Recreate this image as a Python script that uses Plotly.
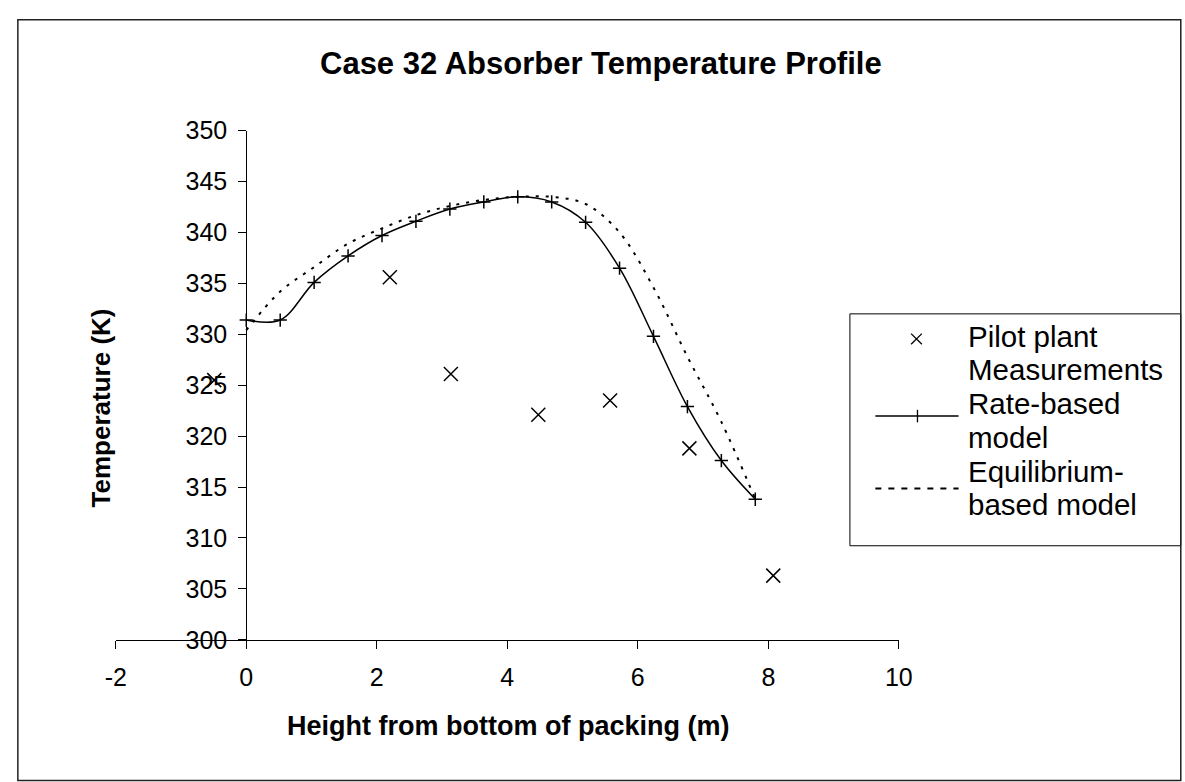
import plotly.graph_objects as go

# ---------------- data ----------------
meas_x = [-0.49, 2.2, 3.135, 4.475, 5.575, 6.79, 8.075]
meas_y = [325.5, 335.6, 326.1, 322.1, 323.5, 318.8, 306.3]

model_x = [0.0, 0.52, 1.04, 1.56, 2.08, 2.6, 3.12, 3.64, 4.16, 4.68, 5.2, 5.72, 6.24, 6.76, 7.28, 7.8]
rate_y = [331.4, 331.4, 335.1, 337.7, 339.7, 341.1, 342.3, 343.0, 343.5, 343.0, 341.0, 336.5, 329.8, 322.9, 317.6, 313.8]
equil_y = [330.4, 334.2, 336.6, 338.9, 340.4, 341.7, 342.6, 343.2, 343.5, 343.5, 342.8, 340.0, 334.6, 327.8, 321.4, 313.8]

x_ticks = [-2, 0, 2, 4, 6, 8, 10]
y_ticks = [300, 305, 310, 315, 320, 325, 330, 335, 340, 345, 350]

title = "Case 32 Absorber Temperature Profile"
x_title = "Height from bottom of packing (m)"
y_title = "Temperature (K)"
legend_lines = ["Pilot plant", "Measurements", "Rate-based", "model", "Equilibrium-", "based model"]

# ---------------- layout helpers ----------------
W, H = 1185, 782
FONT = "Liberation Sans, Arial, sans-serif"


def px(x):
    return x / W


def py(y):
    return (H - y) / H


fig = go.Figure()

fig.add_trace(go.Scatter(
    x=meas_x, y=meas_y, mode="markers", name="Pilot plant Measurements",
    marker=dict(symbol="x-thin", size=14, color="black", line=dict(width=1.5, color="black")),
    showlegend=False, cliponaxis=False,
))
fig.add_trace(go.Scatter(
    x=model_x, y=equil_y, mode="lines", name="Equilibrium-based model",
    line=dict(color="black", width=2, dash="3px,7px", shape="spline"),
    showlegend=False,
))
fig.add_trace(go.Scatter(
    x=model_x, y=rate_y, mode="lines+markers", name="Rate-based model",
    line=dict(color="black", width=1.5, shape="spline"),
    marker=dict(symbol="cross-thin", size=9.5, color="black", line=dict(width=1.5, color="black")),
    showlegend=False, cliponaxis=False,
))

x0_px, x1_px = 107, 907
ytop_px, ybot_px = 121, 649
xmin, xmax = -2, 10

fig.update_layout(
    width=W, height=H,
    margin=dict(l=0, r=0, t=0, b=0),
    paper_bgcolor="white", plot_bgcolor="white",
    font=dict(family=FONT, color="black"),
    showlegend=False,
    xaxis=dict(
        domain=[px(x0_px), px(x1_px)], range=[xmin, xmax],
        tickmode="array", tickvals=x_ticks, ticktext=[str(v) for v in x_ticks],
        showline=True, linecolor="black", linewidth=1,
        ticks="outside", ticklen=8, tickcolor="black", tickwidth=1,
        showgrid=False, zeroline=False,
        tickfont=dict(size=25, family=FONT, color="black"),
        ticklabelstandoff=7,
        anchor="y",
    ),
    yaxis=dict(
        domain=[py(ybot_px), py(ytop_px)], range=[300, 350],
        tickmode="array", tickvals=y_ticks, ticktext=[str(v) for v in y_ticks],
        showline=True, linecolor="black", linewidth=1,
        ticks="outside", ticklen=8, tickcolor="black", tickwidth=1,
        showgrid=False, zeroline=False,
        tickfont=dict(size=25, family=FONT, color="black"),
        ticklabelstandoff=6,
        anchor="free",
        position=px(x0_px + (0 - xmin) / (xmax - xmin) * (x1_px - x0_px)),
    ),
)

ann = []
ann.append(dict(text="<b>" + title + "</b>", x=px(603), y=py(51), xref="paper", yref="paper",
                xanchor="center", yanchor="middle", showarrow=False,
                font=dict(size=31, family=FONT, color="black")))
ann.append(dict(text="<b>" + x_title + "</b>", x=px(508), y=py(738), xref="paper", yref="paper",
                xanchor="center", yanchor="middle", showarrow=False,
                font=dict(size=27, family=FONT, color="black")))
ann.append(dict(text="<b>" + y_title + "</b>", x=px(92), y=py(409), xref="paper", yref="paper",
                xanchor="center", yanchor="middle", showarrow=False, textangle=-90,
                font=dict(size=26, family=FONT, color="black")))
for i, t in enumerate(legend_lines):
    ann.append(dict(text=t, x=px(975.5), y=py(334 + 35 * i), xref="paper", yref="paper",
                    xanchor="left", yanchor="middle", showarrow=False,
                    font=dict(size=29.5, family=FONT, color="black")))

shapes = []
# outer chart border
shapes.append(dict(type="rect", xref="paper", yref="paper", x0=px(7), x1=px(1195), y0=py(795), y1=py(6),
                   line=dict(color="#222222", width=1.5), fillcolor="rgba(0,0,0,0)"))
# legend box
shapes.append(dict(type="rect", xref="paper", yref="paper", x0=px(857), x1=px(1195), y0=py(551.5), y1=py(311),
                   line=dict(color="black", width=1), fillcolor="white", layer="below"))
# legend symbols
s = 5.5
cx, cy = 925, 337
shapes.append(dict(type="line", xref="paper", yref="paper", x0=px(cx - s), x1=px(cx + s), y0=py(cy - s), y1=py(cy + s),
                   line=dict(color="black", width=1.3)))
shapes.append(dict(type="line", xref="paper", yref="paper", x0=px(cx - s), x1=px(cx + s), y0=py(cy + s), y1=py(cy - s),
                   line=dict(color="black", width=1.3)))
ly = 417
shapes.append(dict(type="line", xref="paper", yref="paper", x0=px(883), x1=px(968), y0=py(ly), y1=py(ly),
                   line=dict(color="black", width=1.5)))
shapes.append(dict(type="line", xref="paper", yref="paper", x0=px(926), x1=px(926), y0=py(ly - 6.5), y1=py(ly + 6.5),
                   line=dict(color="black", width=1.3)))
ey = 492
shapes.append(dict(type="line", xref="paper", yref="paper", x0=px(883), x1=px(968), y0=py(ey), y1=py(ey),
                   line=dict(color="black", width=2, dash="6px,7px")))

fig.update_layout(annotations=ann, shapes=shapes)

fig.write_html("out.html")
